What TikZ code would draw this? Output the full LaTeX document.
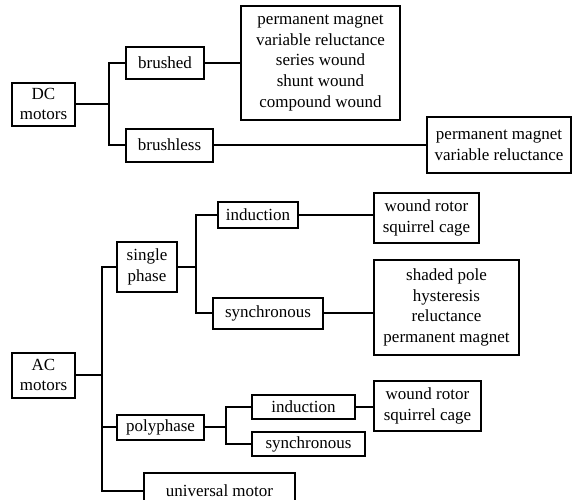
\documentclass[tikz,border=0pt]{standalone}
\usepackage{fontspec}
\setmainfont{Liberation Serif}
\usepackage{tikz}
\usetikzlibrary{calc}
\tikzset{
  box/.style={
    draw,
    rectangle,
    line width=2pt,
    inner sep=2pt,
    align=center,
    font=\fontsize{17}{20.7}\selectfont,
  },
  link/.style={
    line width=2pt
  }
}

\begin{document}
\begin{tikzpicture}[x=1pt, y=-1pt]
  \useasboundingbox (0,0) rectangle (572,499);

  % DC motors
  \node[box, minimum width=63pt, minimum height=43pt] (dc) at (43.5,104) {DC\\motors};
  \node[box, minimum width=78pt, minimum height=32pt] (brushed) at (165,63) {brushed};
  \node[box, minimum width=87pt, minimum height=33pt] (brushless) at (169.5,145) {brushless};
  \node[box, minimum width=159pt, minimum height=114pt] (brushedlist) at (320.5,63) {permanent magnet\\variable reluctance\\series wound\\shunt wound\\compound wound};
  \node[box, minimum width=144pt, minimum height=56pt] (brushlesslist) at (499,145) {permanent magnet\\variable reluctance};
  \coordinate (dcj) at (109,104);

  \draw[link] (dc) -- (dcj);
  \draw[link] (dcj) |- (brushed);
  \draw[link] (dcj) |- (brushless);
  \draw[link] (brushed) -- (brushedlist);
  \draw[link] (brushless) -- (brushlesslist);

  % AC motors
  \node[box, minimum width=63pt, minimum height=45pt] (ac) at (43.5,375) {AC\\motors};
  \node[box, minimum width=60pt, minimum height=50pt] (single) at (147,267) {single\\phase};
  \node[box, minimum width=87pt, minimum height=25pt] (poly) at (160.5,427) {polyphase};
  \node[box, minimum width=151pt, minimum height=36pt] (univ) at (219.5,491) {universal motor};
  \node[box, minimum width=80pt, minimum height=26pt] (sind) at (258,215) {induction};
  \node[box, minimum width=110pt, minimum height=31pt] (ssyn) at (268,313) {synchronous};
  \node[box, minimum width=103pt, minimum height=24pt] (pind) at (303.5,407) {induction};
  \node[box, minimum width=113pt, minimum height=24pt] (psyn) at (308.5,444) {synchronous};
  \node[box, minimum width=105pt, minimum height=50pt] (sindlist) at (426.5,218) {wound rotor\\squirrel cage};
  \node[box, minimum width=145pt, minimum height=95pt] (ssynlist) at (446.5,307.5) {shaded pole\\hysteresis\\reluctance\\permanent magnet};
  \node[box, minimum width=107pt, minimum height=50pt] (pindlist) at (427.5,406) {wound rotor\\squirrel cage};
  \coordinate (acj) at (102,375);
  \coordinate (sj) at (196,267);
  \coordinate (pj) at (226,427);

  \draw[link] (ac) -- (acj);
  \draw[link] (acj) |- (single);
  \draw[link] (acj) |- (poly);
  \draw[link] (acj) |- (univ);
  \draw[link] (single) -- (sj);
  \draw[link] (sj) |- (sind);
  \draw[link] (sj) |- (ssyn);
  \draw[link] (poly) -- (pj);
  \draw[link] (pj) |- (pind);
  \draw[link] (pj) |- (psyn);
  \draw[link] (sind.east) -- (sind.east -| sindlist.west);
  \draw[link] (ssyn.east) -- (ssyn.east -| ssynlist.west);
  \draw[link] (pind.east) -- (pind.east -| pindlist.west);

\end{tikzpicture}
\end{document}
